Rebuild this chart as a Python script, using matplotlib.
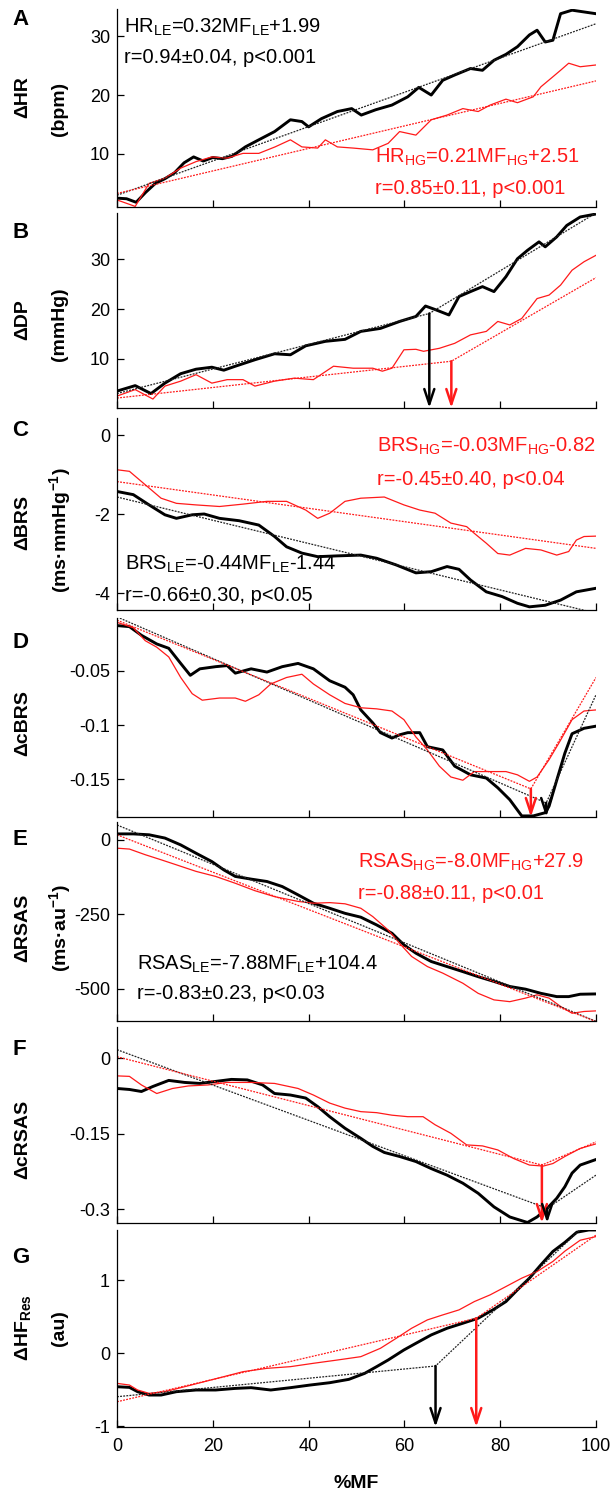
import matplotlib
matplotlib.use('Agg')
import matplotlib.pyplot as plt
from matplotlib.ticker import FuncFormatter

plt.rcParams['font.family'] = ['Liberation Sans', 'DejaVu Sans']
plt.rcParams['mathtext.default'] = 'regular'
plt.rcParams['axes.unicode_minus'] = False

W, H = 611, 1493
RED = '#ff1a1a'

# ---- A: heart rate ----
hr_le_x = [0, 2, 4, 6, 8, 10, 12, 14, 16, 18, 20, 22, 24, 26.8, 29.6, 32.9, 36.2, 38.6, 40,
           42.7, 46, 49, 51, 54, 57.4, 60.7, 63, 65.6, 68, 70.5, 73.8, 76.3, 78.7, 81.2,
           83.6, 86.1, 87.7, 89.4, 91, 92.6, 95, 100]
hr_le = [2.5, 2.4, 1.8, 3.5, 5.0, 5.8, 6.8, 8.5, 9.5, 8.8, 9.4, 9.2, 9.6, 11.2, 12.4, 13.8,
         15.8, 15.5, 14.6, 16.0, 17.2, 17.7, 16.6, 17.5, 18.3, 19.7, 21.3, 20.0, 22.5, 23.4,
         24.5, 24.2, 25.9, 26.9, 28.2, 30.2, 31.0, 29.0, 29.3, 33.8, 34.4, 33.8]
hr_hg_x = [0, 3.8, 6.7, 10, 13.3, 16.5, 19.8, 23, 26.3, 29.6, 33, 36.2, 38.6, 41.9, 43.5, 46,
           49.3, 53.4, 56.6, 59, 62.4, 65.6, 68.9, 72.2, 75.4, 77.9, 81.2, 83.6, 86.9, 88.5,
           91, 92.6, 94.3, 96.7, 100]
hr_hg = [2.2, 1.1, 5.0, 5.9, 7.6, 8.7, 9.5, 9.3, 10.1, 10.1, 11.2, 12.4, 11.2, 11.0, 12.4,
         11.2, 11.0, 10.7, 11.8, 13.8, 13.2, 15.8, 16.6, 17.7, 17.2, 18.3, 19.3, 18.7, 19.7,
         21.4, 23.1, 24.2, 25.4, 24.8, 25.1]
hr_fit_le_x, hr_fit_le = [0, 100], [3.0, 32.1]
hr_fit_hg_x, hr_fit_hg = [0, 100], [3.3, 22.4]

# ---- B: diastolic pressure ----
dp_le_x = [0, 3.8, 7.1, 10, 13.3, 16.5, 19.8, 22.3, 24.7, 28.8, 32.9, 36.2, 39.4, 43.5, 47.6,
           50.9, 55, 59, 62.4, 64.4, 66.4, 69.3, 71.4, 73.8, 76.3, 78.7, 81.2, 83.6, 85.7,
           88.1, 89.4, 91.8, 93.9, 96.7, 100]
dp_le = [3.5, 4.6, 3.0, 5.1, 7.0, 7.9, 8.3, 7.7, 8.5, 9.8, 11.0, 10.8, 12.6, 13.5, 13.9, 15.5,
         16.1, 17.5, 18.5, 20.6, 19.9, 18.8, 22.5, 23.5, 24.5, 23.5, 26.5, 30.1, 31.8, 33.5,
         32.5, 34.5, 36.8, 38.5, 39.1]
dp_hg_x = [0, 3.8, 7.5, 10, 13.3, 16.5, 19.8, 23, 26.3, 28.8, 32.9, 37, 41, 45.2, 49.3, 53.4,
           55.4, 57.4, 59.9, 62.4, 64, 67.3, 70.5, 73.8, 77.1, 79.5, 82, 84.5, 87.7, 90.2,
           92.6, 95, 97.5, 100]
dp_hg = [2.5, 3.8, 1.9, 4.5, 5.5, 6.8, 5.1, 5.8, 5.8, 4.5, 5.5, 6.1, 5.8, 8.5, 8.1, 8.1, 7.5,
         8.1, 11.8, 11.9, 11.5, 12.1, 13.1, 14.8, 15.5, 17.5, 16.8, 18.1, 22.1, 22.8, 24.8,
         27.8, 29.5, 30.8]
dp_fit_le_x, dp_fit_le = [0, 65.2, 100], [3.0, 19.1, 39.3]
dp_fit_hg_x, dp_fit_hg = [0, 69.8, 100], [2.1, 9.5, 26.3]

# ---- C: baroreflex sensitivity ----
brs_le_x = [0, 3.4, 6.7, 10, 12.4, 15.7, 18.2, 21.4, 25.5, 29.6, 32.9, 35.4, 38.6, 41.9, 46,
            50.9, 54.2, 58.3, 62.4, 65.6, 68.9, 71.4, 73.8, 77.1, 80.4, 83.6, 86.1, 89.4,
            92.6, 95.9, 100]
brs_le = [-1.42, -1.5, -1.76, -2.01, -2.1, -2.01, -1.99, -2.1, -2.16, -2.27, -2.56, -2.82,
          -2.98, -3.07, -3.05, -3.03, -3.11, -3.28, -3.48, -3.45, -3.32, -3.39, -3.66, -3.96,
          -4.08, -4.25, -4.34, -4.3, -4.17, -3.96, -3.87]
brs_hg_x = [0, 2.6, 5.9, 9.2, 12.4, 16.5, 21.4, 26.3, 31.3, 35.4, 39.4, 41.9, 44.4, 47.6,
            50.9, 55.8, 59.9, 63.2, 66.4, 69.7, 73, 74.6, 77.1, 79.5, 82, 85.3, 88.5, 91.8,
            94.3, 95.9, 97.5, 100]
brs_hg = [-0.87, -0.91, -1.25, -1.59, -1.72, -1.76, -1.8, -1.74, -1.67, -1.67, -1.89, -2.1,
          -1.97, -1.67, -1.59, -1.56, -1.76, -1.89, -1.97, -2.22, -2.31, -2.48, -2.73, -2.99,
          -3.03, -2.86, -2.9, -3.03, -2.94, -2.65, -2.56, -2.55]
brs_fit_le_x, brs_fit_le = [0, 100], [-1.56, -4.5]
brs_fit_hg_x, brs_fit_hg = [0, 100], [-1.17, -2.86]

# ---- D: corrected BRS ----
cbrs_le_x = [0, 2.6, 5.1, 8.3, 10.8, 13.3, 15.3, 17.3, 20.6, 23, 24.7, 28, 31.3, 34.5, 37.8,
             41, 44.4, 47.6, 49.3, 50.9, 53.4, 55, 57.4, 59, 60.7, 63.2, 64.8, 68, 70.5,
             73.8, 77.1, 79.5, 82, 84.5, 86.9, 89.4, 90.2, 91.8, 93.5, 95, 97.5, 100]
cbrs_le = [-0.008, -0.009, -0.017, -0.025, -0.029, -0.043, -0.054, -0.048, -0.046, -0.045,
           -0.052, -0.048, -0.051, -0.046, -0.043, -0.048, -0.059, -0.065, -0.072, -0.086,
           -0.098, -0.107, -0.112, -0.109, -0.107, -0.107, -0.12, -0.123, -0.138, -0.146,
           -0.149, -0.158, -0.169, -0.184, -0.184, -0.181, -0.175, -0.151, -0.126, -0.108,
           -0.103, -0.101]
cbrs_hg_x = [0, 3.4, 5.9, 8.3, 10.8, 13.3, 15.7, 17.8, 21.4, 24.7, 26.8, 29.6, 32.1, 35.4,
             38.6, 41, 44.4, 47.6, 50.9, 54.2, 57.4, 59.9, 62.4, 64.8, 67.3, 69.7, 72.2,
             74.6, 77.9, 81.2, 83.6, 86.1, 87.7, 90.2, 92.6, 95, 97.5, 100]
cbrs_hg = [-0.005, -0.01, -0.022, -0.028, -0.037, -0.056, -0.071, -0.077, -0.075, -0.075,
           -0.078, -0.072, -0.062, -0.056, -0.053, -0.062, -0.072, -0.08, -0.084, -0.085,
           -0.087, -0.095, -0.111, -0.123, -0.138, -0.148, -0.151, -0.143, -0.143, -0.143,
           -0.146, -0.152, -0.148, -0.132, -0.114, -0.095, -0.087, -0.086]
cbrs_fit_le_x, cbrs_fit_le = [0, 89.6, 100], [0.0, -0.172, -0.072]
cbrs_fit_hg_x, cbrs_fit_hg = [0, 86.4, 100], [-0.003, -0.159, -0.056]

# ---- E: RSA slope ----
rsas_le_x = [0, 3.4, 6.7, 10, 13.3, 16.5, 19.8, 22.3, 24.7, 28, 31.3, 34.5, 37.8, 41, 44.4,
             47.6, 50.9, 54.2, 57.4, 59.9, 62.4, 65.6, 68.9, 72.2, 75.4, 78.7, 82, 85.3,
             88.5, 91.8, 94.3, 96.7, 100]
rsas_le = [20, 20, 17, 6, -17, -45, -73, -101, -123, -132, -140, -157, -185, -213, -230,
           -247, -260, -286, -314, -353, -381, -409, -426, -443, -460, -476, -493, -502,
           -516, -527, -527, -519, -518]
rsas_hg_x = [0, 2.6, 5.9, 9.2, 12.4, 16.5, 20.6, 24.7, 28.8, 32.9, 37.8, 41, 44.4, 47.6,
             50.9, 53.4, 56.6, 59, 61.5, 64.8, 68, 72.2, 75.4, 78.7, 82, 85.3, 87.7, 90.2,
             92.6, 95, 97.5, 100]
rsas_hg = [-28, -31, -50, -67, -84, -106, -123, -146, -171, -191, -207, -213, -211, -215,
           -230, -258, -303, -348, -392, -426, -448, -482, -516, -538, -544, -532, -521,
           -532, -560, -583, -577, -575]
rsas_fit_le_x, rsas_fit_le = [0, 100], [50, -610]
rsas_fit_hg_x, rsas_fit_hg = [0, 100], [17, -611]

# ---- F: corrected RSAS ----
crsas_le_x = [0, 2.6, 5.1, 7.5, 10.8, 14.1, 17.3, 20.6, 23.9, 27.2, 30.4, 32.9, 36.2, 39.4,
              41.9, 44.4, 47.6, 50.9, 53.4, 55.8, 59, 62.4, 65.6, 68.9, 72.2, 75.4, 78.7,
              82, 85.7, 87.7, 89.8, 91.8, 93.5, 95, 96.7, 100]
crsas_le = [-0.06, -0.062, -0.066, -0.056, -0.044, -0.048, -0.05, -0.046, -0.042, -0.043,
            -0.053, -0.07, -0.073, -0.079, -0.096, -0.116, -0.139, -0.159, -0.175, -0.187,
            -0.195, -0.205, -0.219, -0.232, -0.248, -0.268, -0.295, -0.315, -0.326, -0.315,
            -0.298, -0.278, -0.255, -0.228, -0.212, -0.201]
crsas_hg_x = [0, 2.6, 5.1, 8.3, 11.6, 14.9, 19, 23, 28, 32.9, 37.8, 41, 44.4, 47.6, 50.9,
              54.2, 57.4, 60.7, 63.9, 66.4, 69.7, 73, 76.3, 79.5, 82.8, 86.1, 89, 91, 93.5,
              96.7, 100]
crsas_hg = [-0.035, -0.036, -0.053, -0.07, -0.06, -0.055, -0.053, -0.048, -0.048, -0.05,
            -0.06, -0.073, -0.089, -0.099, -0.106, -0.108, -0.113, -0.116, -0.116, -0.132,
            -0.149, -0.172, -0.174, -0.182, -0.199, -0.212, -0.214, -0.209, -0.195, -0.179,
            -0.17]
crsas_fit_le_x, crsas_fit_le = [0, 89.8, 100], [0.017, -0.298, -0.232]
crsas_fit_hg_x, crsas_fit_hg = [0, 88.7, 100], [0.003, -0.212, -0.166]

# ---- G: respiratory HF power ----
hf_le_x = [0, 2.6, 4.3, 6.7, 9.2, 12.4, 16.5, 20.6, 24.7, 28, 32.1, 36.2, 40.3, 44.4, 48.4,
           51.7, 54.2, 56.6, 59.9, 62.4, 65.6, 68.9, 72.2, 75.4, 78.7, 81.2, 83.6, 86.1,
           88.5, 91, 93.5, 96, 98.5, 100]
hf_le = [-0.458, -0.467, -0.526, -0.572, -0.572, -0.526, -0.503, -0.503, -0.481, -0.471,
         -0.503, -0.471, -0.435, -0.403, -0.357, -0.275, -0.183, -0.092, 0.046, 0.137, 0.252,
         0.343, 0.412, 0.481, 0.604, 0.709, 0.87, 1.03, 1.213, 1.396, 1.52, 1.66, 1.69, 1.69]
hf_hg_x = [0, 2.6, 4.3, 6.7, 10, 14.1, 18.2, 22.3, 26.3, 31.3, 36.2, 41, 46, 50.9, 55, 58.3,
           61.5, 64.8, 68, 71.4, 74.6, 77.9, 81.2, 84.5, 87.7, 91, 93.5, 96.7, 100]
hf_hg = [-0.412, -0.435, -0.503, -0.549, -0.526, -0.458, -0.389, -0.32, -0.252, -0.206,
         -0.183, -0.137, -0.092, -0.046, 0.069, 0.206, 0.343, 0.458, 0.526, 0.595, 0.709,
         0.801, 0.915, 1.03, 1.121, 1.259, 1.4, 1.55, 1.6]
hf_fit_le_x, hf_fit_le = [0, 66.5, 100], [-0.595, -0.174, 1.9]
hf_fit_hg_x, hf_fit_hg = [0, 75, 100], [-0.664, 0.48, 1.62]

# breakpoint arrows (x, y of breakpoint)
arrows = {
    1: [(65.2, 19.1, 'k'), (69.8, 9.5, RED)],
    3: [(86.4, -0.159, RED), (89.6, -0.172, 'k')],
    5: [(88.7, -0.212, RED), (89.8, -0.298, 'k')],
    6: [(66.5, -0.174, 'k'), (75, 0.48, RED)],
}

panels = [
    (hr_le_x, hr_le, hr_hg_x, hr_hg, hr_fit_le_x, hr_fit_le, hr_fit_hg_x, hr_fit_hg),
    (dp_le_x, dp_le, dp_hg_x, dp_hg, dp_fit_le_x, dp_fit_le, dp_fit_hg_x, dp_fit_hg),
    (brs_le_x, brs_le, brs_hg_x, brs_hg, brs_fit_le_x, brs_fit_le, brs_fit_hg_x, brs_fit_hg),
    (cbrs_le_x, cbrs_le, cbrs_hg_x, cbrs_hg, cbrs_fit_le_x, cbrs_fit_le, cbrs_fit_hg_x, cbrs_fit_hg),
    (rsas_le_x, rsas_le, rsas_hg_x, rsas_hg, rsas_fit_le_x, rsas_fit_le, rsas_fit_hg_x, rsas_fit_hg),
    (crsas_le_x, crsas_le, crsas_hg_x, crsas_hg, crsas_fit_le_x, crsas_fit_le, crsas_fit_hg_x, crsas_fit_hg),
    (hf_le_x, hf_le, hf_hg_x, hf_hg, hf_fit_le_x, hf_fit_le, hf_fit_hg_x, hf_fit_hg),
]

ylims = [(1, 34.6), (0.1, 39.3), (-4.42, 0.44), (-0.185, -0.001), (-609, 60), (-0.327, 0.062), (-1.01, 1.69)]
yticks = [[10, 20, 30], [10, 20, 30], [-4, -2, 0], [-0.15, -0.1, -0.05], [-500, -250, 0],
          [-0.3, -0.15, 0], [-1, 0, 1]]
letters = ['A', 'B', 'C', 'D', 'E', 'F', 'G']
ylabels = [('ΔHR', '(bpm)'), ('ΔDP', '(mmHg)'), ('ΔBRS', r'(ms·mmHg$^{-1}$)'), ('ΔcBRS', None),
           ('ΔRSAS', r'(ms·au$^{-1}$)'), ('ΔcRSAS', None), (r'ΔHF$_{Res}$', '(au)')]

# layout in pixels (from top of image)
tops = [9, 213, 418, 618, 822, 1027, 1230]
bottoms = [207, 408, 610, 817, 1021, 1223, 1427]
letter_base = [25, 238, 436, 648, 845, 1055, 1263]
lab1_y = [97, 320, 522, 723, 928, 1139, 1328]
lab2_y = [109, 324, 530, None, 928, None, 1328]
AX_L, AX_R = 117, 596


def fx(x):
    return x / W


def fy(y):
    return 1 - y / H


fig = plt.figure(figsize=(W / 100, H / 100), dpi=100)

for i, p in enumerate(panels):
    lx, ly, gx, gy, flx, fly, fgx, fgy = p
    ax = fig.add_axes([fx(AX_L), fy(bottoms[i]), fx(AX_R - AX_L), (bottoms[i] - tops[i]) / H])
    ax.plot(lx, ly, color='k', lw=2.1, solid_joinstyle='round')
    ax.plot(gx, gy, color=RED, lw=0.9)
    ax.plot(flx, fly, color='#222222', lw=0.9, ls=(0, (1.5, 1)))
    ax.plot(fgx, fgy, color=RED, lw=0.9, ls=(0, (1.5, 1)))
    for (axx, axy, c) in arrows.get(i, []):
        ax.annotate('', xy=(axx, ylims[i][0]), xytext=(axx, axy),
                    arrowprops=dict(arrowstyle='->,head_length=0.9,head_width=0.3', color=c,
                                    lw=1.8, shrinkA=0, shrinkB=0, mutation_scale=12),
                    annotation_clip=False)
    ax.set_xlim(0, 100)
    ax.set_ylim(*ylims[i])
    ax.set_xticks([0, 20, 40, 60, 80, 100])
    ax.set_yticks(yticks[i])
    ax.yaxis.set_major_formatter(FuncFormatter(lambda v, pos: f'{v:g}'))
    ax.spines['top'].set_visible(False)
    ax.spines['right'].set_visible(False)
    for s in ('left', 'bottom'):
        ax.spines[s].set_linewidth(0.9)
    ax.tick_params(direction='in', length=5, width=0.9, labelsize=13, pad=5)
    if i < 6:
        ax.tick_params(axis='x', labelbottom=False)
    else:
        ax.tick_params(axis='x', pad=8)

    fig.text(fx(12), fy(letter_base[i]), letters[i], fontsize=16, fontweight='bold', va='baseline')
    l1, l2 = ylabels[i]
    fig.text(fx(23), fy(lab1_y[i]), l1, rotation=90, fontsize=14, fontweight='bold',
             ha='center', va='center')
    if l2:
        fig.text(fx(60), fy(lab2_y[i]), l2, rotation=90, fontsize=14, fontweight='bold',
                 ha='center', va='center')

# regression equations
eq = [
    (124, 33, r'HR$_{LE}$=0.32MF$_{LE}$+1.99', 'k'),
    (124, 63, 'r=0.94±0.04, p<0.001', 'k'),
    (375, 163, r'HR$_{HG}$=0.21MF$_{HG}$+2.51', RED),
    (375, 194, 'r=0.85±0.11, p<0.001', RED),
    (377, 452, r'BRS$_{HG}$=-0.03MF$_{HG}$-0.82', RED),
    (377, 485, 'r=-0.45±0.40, p<0.04', RED),
    (125, 570, r'BRS$_{LE}$=-0.44MF$_{LE}$-1.44', 'k'),
    (125, 601, 'r=-0.66±0.30, p<0.05', 'k'),
    (358, 868, r'RSAS$_{HG}$=-8.0MF$_{HG}$+27.9', RED),
    (358, 899, 'r=-0.88±0.11, p<0.01', RED),
    (137, 970, r'RSAS$_{LE}$=-7.88MF$_{LE}$+104.4', 'k'),
    (137, 999, 'r=-0.83±0.23, p<0.03', 'k'),
]
for x, y, s, c in eq:
    fig.text(fx(x), fy(y), s, color=c, fontsize=14.5, va='baseline')

fig.text(fx((AX_L + AX_R) / 2), fy(1484), '%MF', fontsize=14, fontweight='bold',
         ha='center', va='center')

plt.savefig('out.png', dpi=100)
